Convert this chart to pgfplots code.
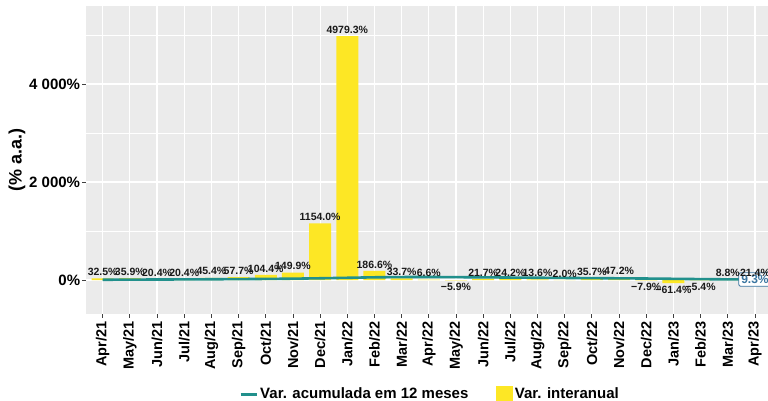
\documentclass[border=0pt]{standalone}
\usepackage{fontspec}
\setmainfont{Liberation Sans}
\usepackage{pgfplots}
\usepackage{pgfplotstable}
\pgfplotsset{compat=1.18}
\definecolor{yel}{HTML}{FDE725}
\definecolor{accline}{HTML}{21908C}
\definecolor{panel}{HTML}{EBEBEB}
\definecolor{boxc}{HTML}{3A75A0}

% x = month index (Apr/21 = 0), v = var. interanual, acc = var. acumulada 12 meses
\pgfplotstableread{
x  v       acc   lab
0  32.5    5     32.5
1  35.9    8     35.9
2  20.4    10    20.4
3  20.4    12    20.4
4  45.4    15    45.4
5  57.7    18    57.7
6  104.4   22    104.4
7  149.9   27    149.9
8  1154.0  35    1154.0
9  4979.3  45    4979.3
10 186.6   55    186.6
11 33.7    60    33.7
12 6.6     62    6.6
13 -5.9    58    −5.9
14 21.7    55    21.7
15 24.2    50    24.2
16 13.6    46    13.6
17 2.0     42    2.0
18 35.7    38    35.7
19 47.2    34    47.2
20 -7.9    30    −7.9
21 -61.4   24    −61.4
22 -5.4    18    −5.4
23 8.8     13    8.8
24 21.4    9.3   21.4
}\data

\begin{document}
\begin{tikzpicture}
\begin{axis}[
    at={(0,0)}, anchor=south west,
    scale only axis,
    width=682pt, height=308pt,
    xmin=-0.614, xmax=24.48,
    ymin=-694, ymax=5592,
    clip=false,
    axis background/.style={fill=panel},
    axis line style={draw=none},
    xtick={0,...,24},
    xticklabels={Apr/21,May/21,Jun/21,Jul/21,Aug/21,Sep/21,Oct/21,Nov/21,Dec/21,Jan/22,Feb/22,Mar/22,Apr/22,May/22,Jun/22,Jul/22,Aug/22,Sep/22,Oct/22,Nov/22,Dec/22,Jan/23,Feb/23,Mar/23,Apr/23},
    ytick={0,2000,4000},
    yticklabels={0\%,2 000\%,4 000\%},
    minor ytick={1000,3000,5000},
    xtick pos=bottom, ytick pos=left,
    tick align=outside,
    major tick length=3.7pt, minor tick length=0pt,
    tick style={color=black!75, line width=0.8pt},
    grid=both,
    major grid style={white, line width=1.1pt},
    minor grid style={white, line width=0.55pt},
    xticklabel style={rotate=90, anchor=east, font=\fontsize{14.5}{14.5}\selectfont\bfseries, inner sep=3.5pt},
    yticklabel style={anchor=east, font=\fontsize{15}{15}\selectfont\bfseries, inner sep=2pt},
    ylabel={(\% a.a.)},
    ylabel style={at={(axis description cs:-0.1012,0.5)}, anchor=center, font=\fontsize{18}{18}\selectfont\bfseries},
    legend columns=2,
    legend style={at={(axis description cs:0.5044,-0.26)}, anchor=center, draw=none, fill=none,
        font=\fontsize{15}{15}\selectfont\bfseries,
        /tikz/every even column/.append style={column sep=26pt}},
]
\addlegendimage{legend image code/.code={\draw[accline, line width=3pt] (0pt,0pt) -- (16pt,0pt);}}
\addlegendentry{Var. acumulada em 12 meses}
\addlegendimage{legend image code/.code={\fill[yel] (0pt,-8pt) rectangle (16pt,8pt);}}
\addlegendentry{Var. interanual}

\addplot[ybar, bar width=22pt, bar shift=0pt, fill=yel, draw=none, forget plot,
    point meta=explicit symbolic,
    visualization depends on={\thisrow{v} \as \rawv},
    nodes near coords={\pgfplotspointmeta\%},
    every node near coord/.append style={font=\fontsize{10.5}{10.5}\selectfont\bfseries, text=black!90, inner sep=2.5pt,
        anchor={\ifdim\rawv pt<0pt north\else south\fi}}]
    table[x=x, y=v, meta=lab] {\data};

\addplot[accline, line width=2.6pt, no marks, forget plot] table[x=x, y=acc] {\data};

\node[draw=boxc, fill=white, text=boxc, rounded corners=2pt, line width=0.8pt,
      font=\fontsize{12}{12}\selectfont\bfseries, inner sep=2.5pt] at (axis cs:24,9.3) {9.3\%};
\end{axis}
\pgfresetboundingbox
\path[use as bounding box] (-86pt,-86pt) rectangle (682pt,314pt);
\end{tikzpicture}
\end{document}
